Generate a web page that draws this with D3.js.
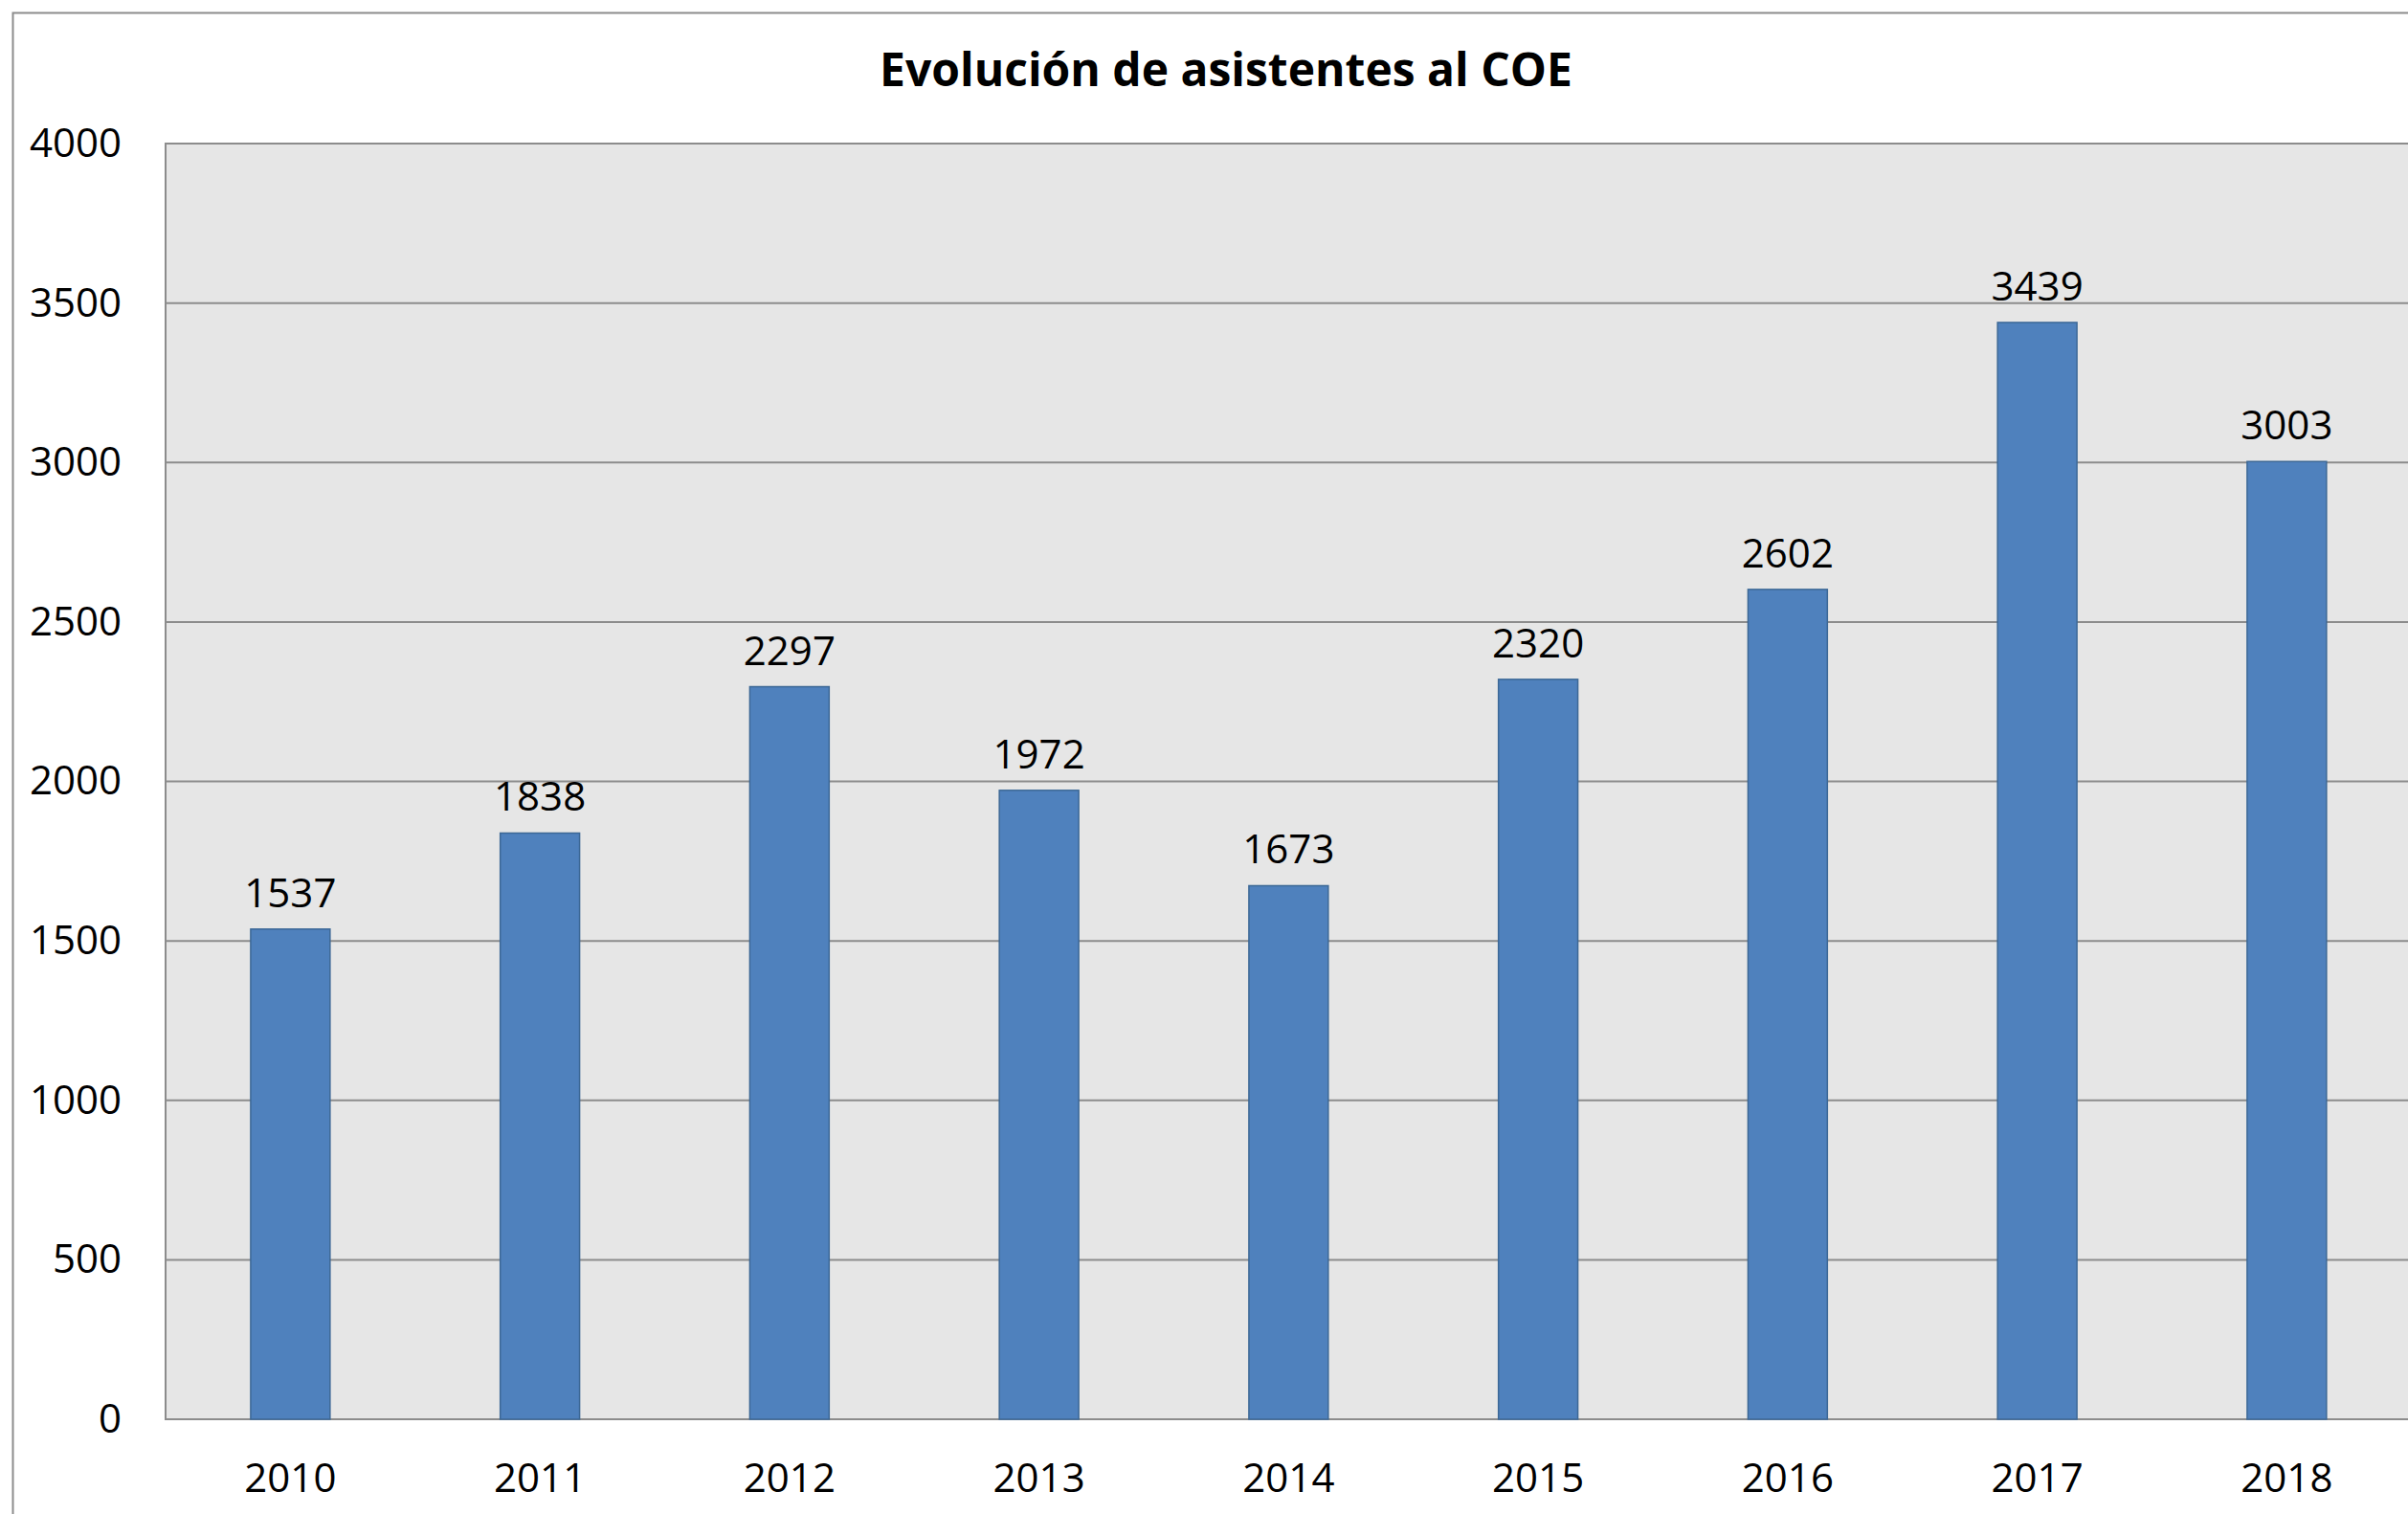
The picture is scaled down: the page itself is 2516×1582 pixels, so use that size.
<!DOCTYPE html>
<html>
<head>
<meta charset="utf-8">
<script src="https://cdn.jsdelivr.net/npm/d3@7"></script>
<style>
    body { margin: 0; background: white; }
    #chartContainer { width: 2516px; height: 1582px; overflow: hidden; }
</style>
</head>
<body>
<div id="chartContainer"></div>
<script>
var years = ['2010', '2011', '2012', '2013', '2014', '2015', '2016', '2017', '2018'];
var asistentes = [1537, 1838, 2297, 1972, 1673, 2320, 2602, 3439, 3003];
var yTicks = [0, 500, 1000, 1500, 2000, 2500, 3000, 3500, 4000];
var chartTitle = 'Evolución de asistentes al COE';

var totalWidth = 2516, totalHeight = 1582;
var margin = { top: 150, right: 0, bottom: 99, left: 173 };
var bandWidth = 260.75;
var width = bandWidth * years.length;
var height = totalHeight - margin.top - margin.bottom;

var fontFamily = '"Open Sans", "Liberation Sans", sans-serif';
var gridColor = '#8c8c8c';

var svg = d3.select('#chartContainer')
    .append('svg')
    .attr('width', totalWidth)
    .attr('height', totalHeight)
    .style('font-family', fontFamily);

// outer chart border (runs off the right and bottom edges)
svg.append('rect')
    .attr('x', 13.5)
    .attr('y', 13.5)
    .attr('width', totalWidth + 20)
    .attr('height', totalHeight + 20)
    .attr('fill', 'white')
    .attr('stroke', gridColor)
    .attr('stroke-width', 2);

svg.append('text')
    .attr('x', 1281)
    .attr('y', 90)
    .attr('text-anchor', 'middle')
    .attr('font-size', 48)
    .attr('font-weight', 'bold')
    .attr('fill', 'black')
    .text(chartTitle);

var g = svg.append('g')
    .attr('transform', `translate(${margin.left}, ${margin.top})`);

var x = d3.scaleBand()
    .domain(years)
    .range([0, width])
    .paddingInner(0.682)
    .paddingOuter(0.341);

var y = d3.scaleLinear()
    .domain([0, 4000])
    .range([height, 0]);

// plot background
g.append('rect')
    .attr('width', width)
    .attr('height', height)
    .attr('fill', '#e6e6e6')
    .attr('stroke', gridColor)
    .attr('stroke-width', 2);

// gridlines
g.append('g')
    .selectAll('line')
    .data(yTicks)
    .join('line')
    .attr('x1', 0)
    .attr('x2', width)
    .attr('y1', function (d) { return y(d) })
    .attr('y2', function (d) { return y(d) })
    .attr('stroke', gridColor)
    .attr('stroke-width', 2);

// y axis labels
var yAxis = g.append('g')
    .call(d3.axisLeft(y).tickValues(yTicks).tickSize(0).tickPadding(46).tickFormat(d3.format('d')));
yAxis.select('.domain').remove();
yAxis.selectAll('text')
    .attr('font-size', 42)
    .attr('font-family', fontFamily)
    .attr('fill', 'black');

// x axis labels
var xAxis = g.append('g')
    .attr('transform', `translate(0, ${height})`)
    .call(d3.axisBottom(x).tickSize(0).tickPadding(46));
xAxis.select('.domain').remove();
xAxis.selectAll('text')
    .attr('font-size', 42)
    .attr('font-family', fontFamily)
    .attr('fill', 'black');

// bars
g.append('g')
    .selectAll('rect')
    .data(asistentes)
    .join('rect')
    .attr('x', function (d, i) { return x(years[i]) })
    .attr('y', function (d) { return y(d) })
    .attr('width', x.bandwidth())
    .attr('height', function (d) { return height - y(d) })
    .attr('fill', '#4f81bd')
    .attr('stroke', '#3c6896')
    .attr('stroke-width', 1.5);

// value labels
g.append('g')
    .selectAll('text')
    .data(asistentes)
    .join('text')
    .attr('x', function (d, i) { return x(years[i]) + x.bandwidth() / 2 })
    .attr('y', function (d) { return y(d) - 23 })
    .attr('text-anchor', 'middle')
    .attr('font-size', 42)
    .attr('fill', 'black')
    .text(function (d) { return d });
</script>
</body>
</html>
